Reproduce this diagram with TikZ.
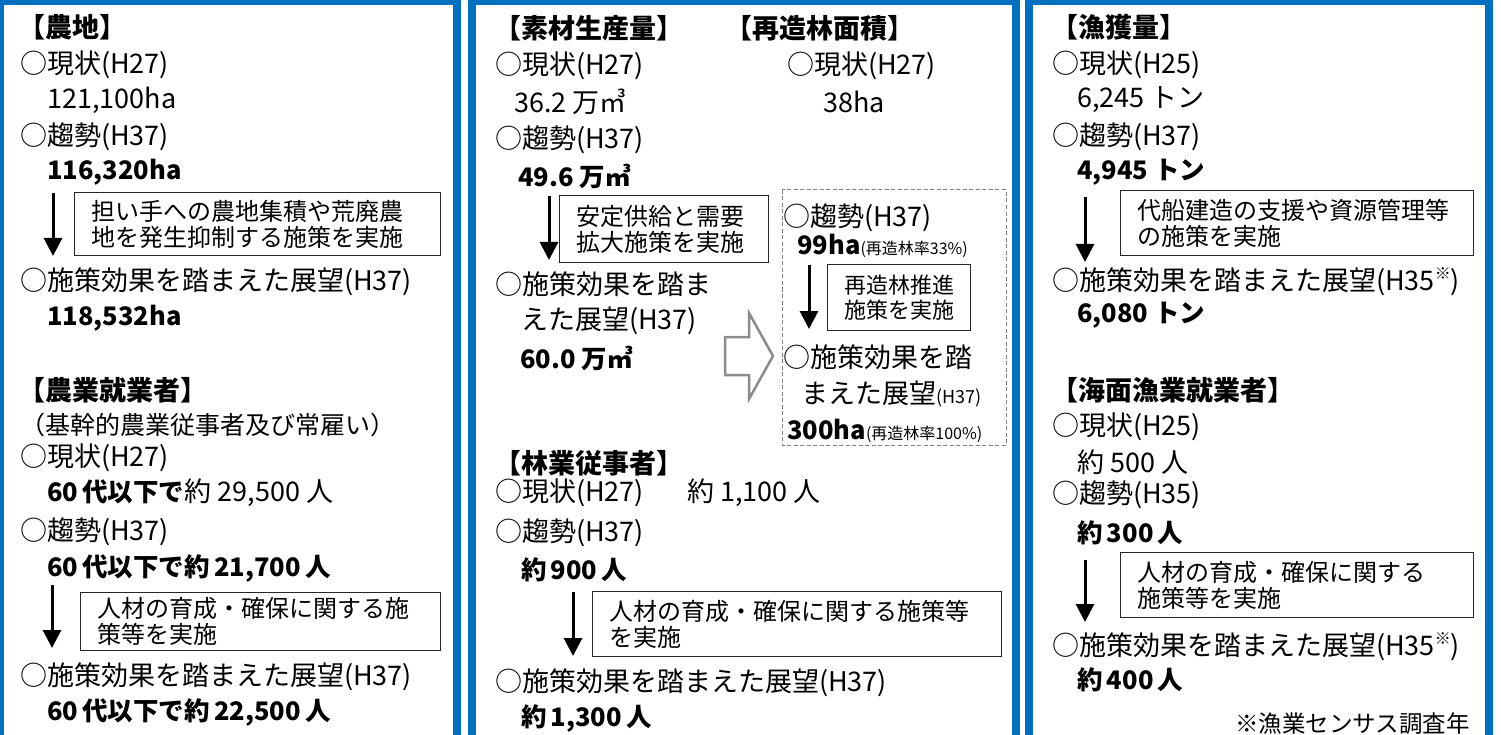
\documentclass[tikz,border=0pt]{standalone}
\usepackage{fontspec}
\setmainfont{Noto Sans CJK JP}
\usepackage{xcolor}
\usetikzlibrary{arrows.meta}
\definecolor{panelblue}{HTML}{0070C0}
\definecolor{arrowgray}{HTML}{8C8C8C}
\definecolor{dashgray}{HTML}{7F7F7F}

\tikzset{
  panel/.style={draw=panelblue, line width=8pt},
  txt/.style={anchor=west, inner sep=0pt, font=\fontsize{27}{30}\selectfont},
  val/.style={txt, font=\fontsize{25.5}{30}\selectfont\bfseries},
  heading/.style={txt, font=\fontsize{27}{30}\selectfont\bfseries},
  memo/.style={draw=black!85, line width=1.3pt, anchor=north west, align=left,
    inner xsep=17pt, inner ysep=3pt, font=\fontsize{24}{26}\selectfont},
  flowdown/.style={-{Triangle[width=18pt,length=18pt]}, line width=3pt},
  hollow/.style={draw=arrowgray, line width=2.5pt, fill=white, line join=miter},
  dashbox/.style={draw=dashgray, line width=1pt, dash pattern=on 4pt off 2.5pt},
}
\newcommand{\smalltxt}{\fontsize{16}{16}\selectfont}

\begin{document}
\begin{tikzpicture}[x=1pt,y=-1pt]
  \useasboundingbox (0,0) rectangle (1501,735);
  \foreach \xl/\xr in {0/456.5,472/1015.5,1029/1489}
  	\draw[panel] (\xl,735) -- (\xl,1) -- (\xr,1) -- (\xr,735);

  % farmland
  \node[heading] (f-title) at (18,27) {【農地】};
  \node[txt] (f-now) at (20,65) {○現状(H27)};
  \node[txt] (f-nowv) at (47,100) {121,100ha};
  \node[txt] (f-trend) at (20,137) {○趨勢(H37)};
  \node[val] (f-trendv) at (47,172) {116,320ha};
  \node[memo, text width=332pt, minimum height=63pt] (f-memo) at (74,192)
    {担い手への農地集積や荒廃農\\地を発生抑制する施策を実施};
  \coordinate (f-a1) at (53,193);
  \coordinate (f-b1) at (53,256);
  \draw[flowdown] (f-a1) -- (f-b1);
  \node[txt] (f-view) at (20,282) {○施策効果を踏まえた展望(H37)};
  \node[val] (f-viewv) at (47,318) {118,532ha};

  \node[heading] (w-title) at (18,390) {【農業就業者】};
  \node[txt, font=\fontsize{25}{28}\selectfont] (w-sub) at (20,425) {（基幹的農業従事者及び常雇い）};
  \node[txt] (w-now) at (20,458) {○現状(H27)};
  \node[txt] (w-nowv) at (47,493) {{\bfseries\fontsize{25.5}{30}\selectfont 60\,代以下で}約 29,500 人};
  \node[txt] (w-trend) at (20,532) {○趨勢(H37)};
  \node[val] (w-trendv) at (47,568) {60\,代以下で約\,21,700\,人};
  \node[memo, text width=326pt, minimum height=58pt] (w-memo) at (80,592)
    {人材の育成・確保に関する施\\策等を実施};
  \coordinate (w-a1) at (52,585);
  \coordinate (w-b1) at (52,648);
  \draw[flowdown] (w-a1) -- (w-b1);
  \node[txt] (w-view) at (20,677) {○施策効果を踏まえた展望(H37)};
  \node[val] (w-viewv) at (47,712) {60\,代以下で約\,22,500\,人};

  % forestry
  \node[heading] (t-title) at (494,28) {【素材生産量】};
  \node[txt] (t-now) at (495,66) {○現状(H27)};
  \node[txt] (t-nowv) at (514,102) {36.2 万㎥};
  \node[txt] (t-trend) at (495,140) {○趨勢(H37)};
  \node[val] (t-trendv) at (518,176) {49.6 万㎥};
  \node[memo, text width=175pt, minimum height=67pt] (t-memo) at (559,195)
    {安定供給と需要\\拡大施策を実施};
  \coordinate (t-a1) at (549,196);
  \coordinate (t-b1) at (549,260);
  \draw[flowdown] (t-a1) -- (t-b1);
  \node[txt] (t-view) at (495,284) {○施策効果を踏ま};
  \node[txt] (t-view2) at (521,321) {えた展望(H37)};
  \node[val] (t-viewv) at (520,358) {60.0 万㎥};

  \node[heading] (r-title) at (725,28) {【再造林面積】};
  \node[txt] (r-now) at (787,66) {○現状(H27)};
  \node[txt] (r-nowv) at (823,102) {38ha};
  \draw[dashbox] (782,190) rectangle (1006,445);
  \node[txt] (r-trend) at (783,218) {○趨勢(H37)};
  \node[val] (r-trendv) at (797,246) {99ha{\mdseries\smalltxt(再造林率33\%)}};
  \node[memo, font=\fontsize{22}{25}\selectfont, text width=110pt, inner xsep=16.5pt,
    minimum height=66pt] (r-memo) at (827,264) {再造林推進\\施策を実施};
  \coordinate (r-a1) at (809,265);
  \coordinate (r-b1) at (809,329);
  \draw[flowdown] (r-a1) -- (r-b1);
  \node[txt] (r-view) at (783,357) {○施策効果を踏};
  \node[txt] (r-view2) at (801,394) {まえた展望{\fontsize{18}{18}\selectfont(H37)}};
  \node[val] (r-viewv) at (787,431) {300ha{\mdseries\smalltxt(再造林率100\%)}};
  \draw[hollow] (725,337) -- (749,337) -- (749,313) -- (773,356) -- (749,399)
    -- (749,375) -- (725,375) -- cycle;

  \node[heading] (s-title) at (494,463) {【林業従事者】};
  \node[txt] (s-now) at (495,493) {○現状(H27)};
  \node[txt] (s-nowv) at (687,493) {約 1,100 人};
  \node[txt] (s-trend) at (495,533) {○趨勢(H37)};
  \node[val] (s-trendv) at (521,570) {約\,900\,人};
  \node[memo, text width=375pt, minimum height=65pt] (s-memo) at (592,591)
    {人材の育成・確保に関する施策等\\を実施};
  \coordinate (s-a1) at (573,592);
  \coordinate (s-b1) at (573,656);
  \draw[flowdown] (s-a1) -- (s-b1);
  \node[txt] (s-view) at (495,683) {○施策効果を踏まえた展望(H37)};
  \node[val] (s-viewv) at (521,718) {約\,1,300\,人};

  % fishery
  \node[heading] (g-title) at (1051,27) {【漁獲量】};
  \node[txt] (g-now) at (1052,65) {○現状(H25)};
  \node[txt] (g-nowv) at (1077,100) {6,245 トン};
  \node[txt] (g-trend) at (1052,137) {○趨勢(H37)};
  \node[val] (g-trendv) at (1077,172) {4,945 トン};
  \node[memo, text width=319pt, minimum height=65pt] (g-memo) at (1120,190)
    {代船建造の支援や資源管理等\\の施策を実施};
  \coordinate (g-a1) at (1085,197);
  \coordinate (g-b1) at (1085,262);
  \draw[flowdown] (g-a1) -- (g-b1);
  \node[txt] (g-view) at (1052,282) {○施策効果を踏まえた展望(H35\raisebox{0.4em}{\smalltxt ※})};
  \node[val] (g-viewv) at (1077,315) {6,080 トン};

  \node[heading] (m-title) at (1051,390) {【海面漁業就業者】};
  \node[txt] (m-now) at (1052,427) {○現状(H25)};
  \node[txt] (m-nowv) at (1077,462) {約 500 人};
  \node[txt] (m-trend) at (1052,495) {○趨勢(H35)};
  \node[val] (m-trendv) at (1077,533) {約\,300\,人};
  \node[memo, text width=319pt, minimum height=65pt] (m-memo) at (1120,552)
    {人材の育成・確保に関する\\施策等を実施};
  \coordinate (m-a1) at (1085,560);
  \coordinate (m-b1) at (1085,622);
  \draw[flowdown] (m-a1) -- (m-b1);
  \node[txt] (m-view) at (1052,647) {○施策効果を踏まえた展望(H35\raisebox{0.4em}{\smalltxt ※})};
  \node[val] (m-viewv) at (1077,680) {約\,400\,人};
  \node[txt, font=\fontsize{23.5}{26}\selectfont] (m-note) at (1235,724) {※漁業センサス調査年};
\end{tikzpicture}
\end{document}
